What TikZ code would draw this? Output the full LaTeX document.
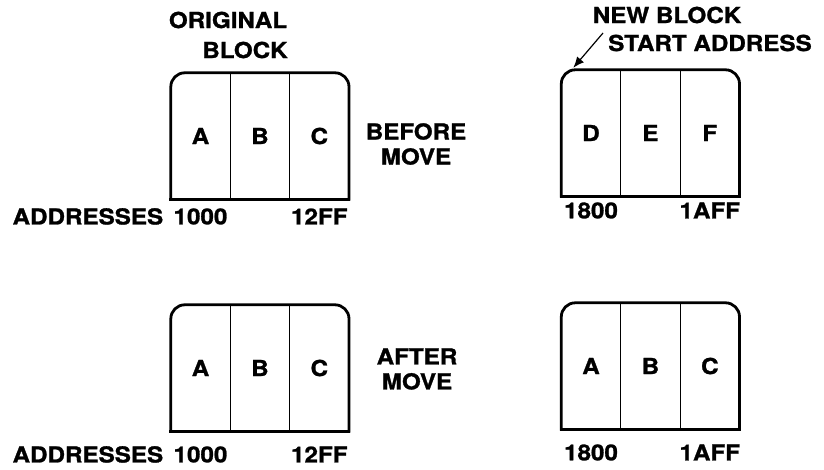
\documentclass[tikz,border=0pt]{standalone}
\usepackage{fontspec}
\setmainfont{TeX Gyre Heros}[FakeStretch=1.1, BoldFeatures={FakeBold=1.2}]
\usetikzlibrary{positioning,arrows.meta}

\tikzset{
  cell/.style={minimum width=59pt, minimum height=126pt, inner sep=0pt,
    font=\bfseries\fontsize{22}{25}\selectfont},
  lbl/.style={inner sep=0pt, align=center, font=\bfseries\fontsize{22}{25}\selectfont},
  outline/.style={line width=2.8pt, line cap=rect, rounded corners=14pt},
  divider/.style={line width=0.9pt},
}

\begin{document}
\begin{tikzpicture}[x=1pt, y=-1pt]
  \useasboundingbox (0,0) rectangle (824,470);

  % Titles:
  \node[lbl] (orig) at (228,20) {ORIGINAL};
  \node[lbl] (block) at (245,50) {BLOCK};
  \node[lbl] (newblk) at (667,15) {NEW BLOCK};
  \node[lbl] (startad) at (710,43) {START ADDRESS};
  \node[lbl] (before) at (416,144) {BEFORE\\MOVE};
  \node[lbl] (after) at (417,369) {AFTER\\MOVE};

  % Original block, before move:
  \node[cell] (oa) at (200.5,136) {A};
  \node[cell, right=0pt of oa] (ob) {B};
  \node[cell, right=0pt of ob] (oc) {C};
  \draw[outline] (oa.south west) -- (oa.north west) -- (oc.north east) -- (oc.south east);
  \draw[outline] (oa.south west) -- (oc.south east);
  \draw[divider] (oa.north east) -- (oa.south east) (ob.north east) -- (ob.south east);

  % New block, before move:
  \node[cell] (nd) at (591,133) {D};
  \node[cell, right=0pt of nd] (ne) {E};
  \node[cell, right=0pt of ne] (nf) {F};
  \draw[outline] (nd.south west) -- (nd.north west) -- (nf.north east) -- (nf.south east);
  \draw[outline] (nd.south west) -- (nf.south east);
  \draw[divider] (nd.north east) -- (nd.south east) (ne.north east) -- (ne.south east);

  % Original block, after move:
  \node[cell] (pa) at (200.5,368) {A};
  \node[cell, right=0pt of pa] (pb) {B};
  \node[cell, right=0pt of pb] (pc) {C};
  \draw[outline] (pa.south west) -- (pa.north west) -- (pc.north east) -- (pc.south east);
  \draw[outline] (pa.south west) -- (pc.south east);
  \draw[divider] (pa.north east) -- (pa.south east) (pb.north east) -- (pb.south east);

  % New block, after move:
  \node[cell] (qa) at (591,366) {A};
  \node[cell, right=0pt of qa] (qb) {B};
  \node[cell, right=0pt of qb] (qc) {C};
  \draw[outline] (qa.south west) -- (qa.north west) -- (qc.north east) -- (qc.south east);
  \draw[outline] (qa.south west) -- (qc.south east);
  \draw[divider] (qa.north east) -- (qa.south east) (qb.north east) -- (qb.south east);

  % Addresses:
  \node[lbl, below=9pt of oa] (o1000) {1000};
  \node[lbl, below=9pt of oc] (o12ff) {12FF};
  \node[lbl, left=10pt of o1000] (oaddr) {ADDRESSES};
  \node[lbl, below=6pt of nd] (n1800) {1800};
  \node[lbl, below=6pt of nf] (n1aff) {1AFF};
  \node[lbl, below=15pt of pa] (p1000) {1000};
  \node[lbl, below=15pt of pc] (p12ff) {12FF};
  \node[lbl, left=10pt of p1000] (paddr) {ADDRESSES};
  \node[lbl, below=15pt of qa] (q1800) {1800};
  \node[lbl, below=15pt of qc] (q1aff) {1AFF};

  % Arrow to the new start address:
  \coordinate (arrtail) at (603,33);
  \coordinate (arrtip) at ([xshift=12pt,yshift=2pt]nd.north west);
  \draw[line width=1.2pt, -{Latex[length=11pt,width=9pt]}] (arrtail) -- (arrtip);
\end{tikzpicture}
\end{document}
